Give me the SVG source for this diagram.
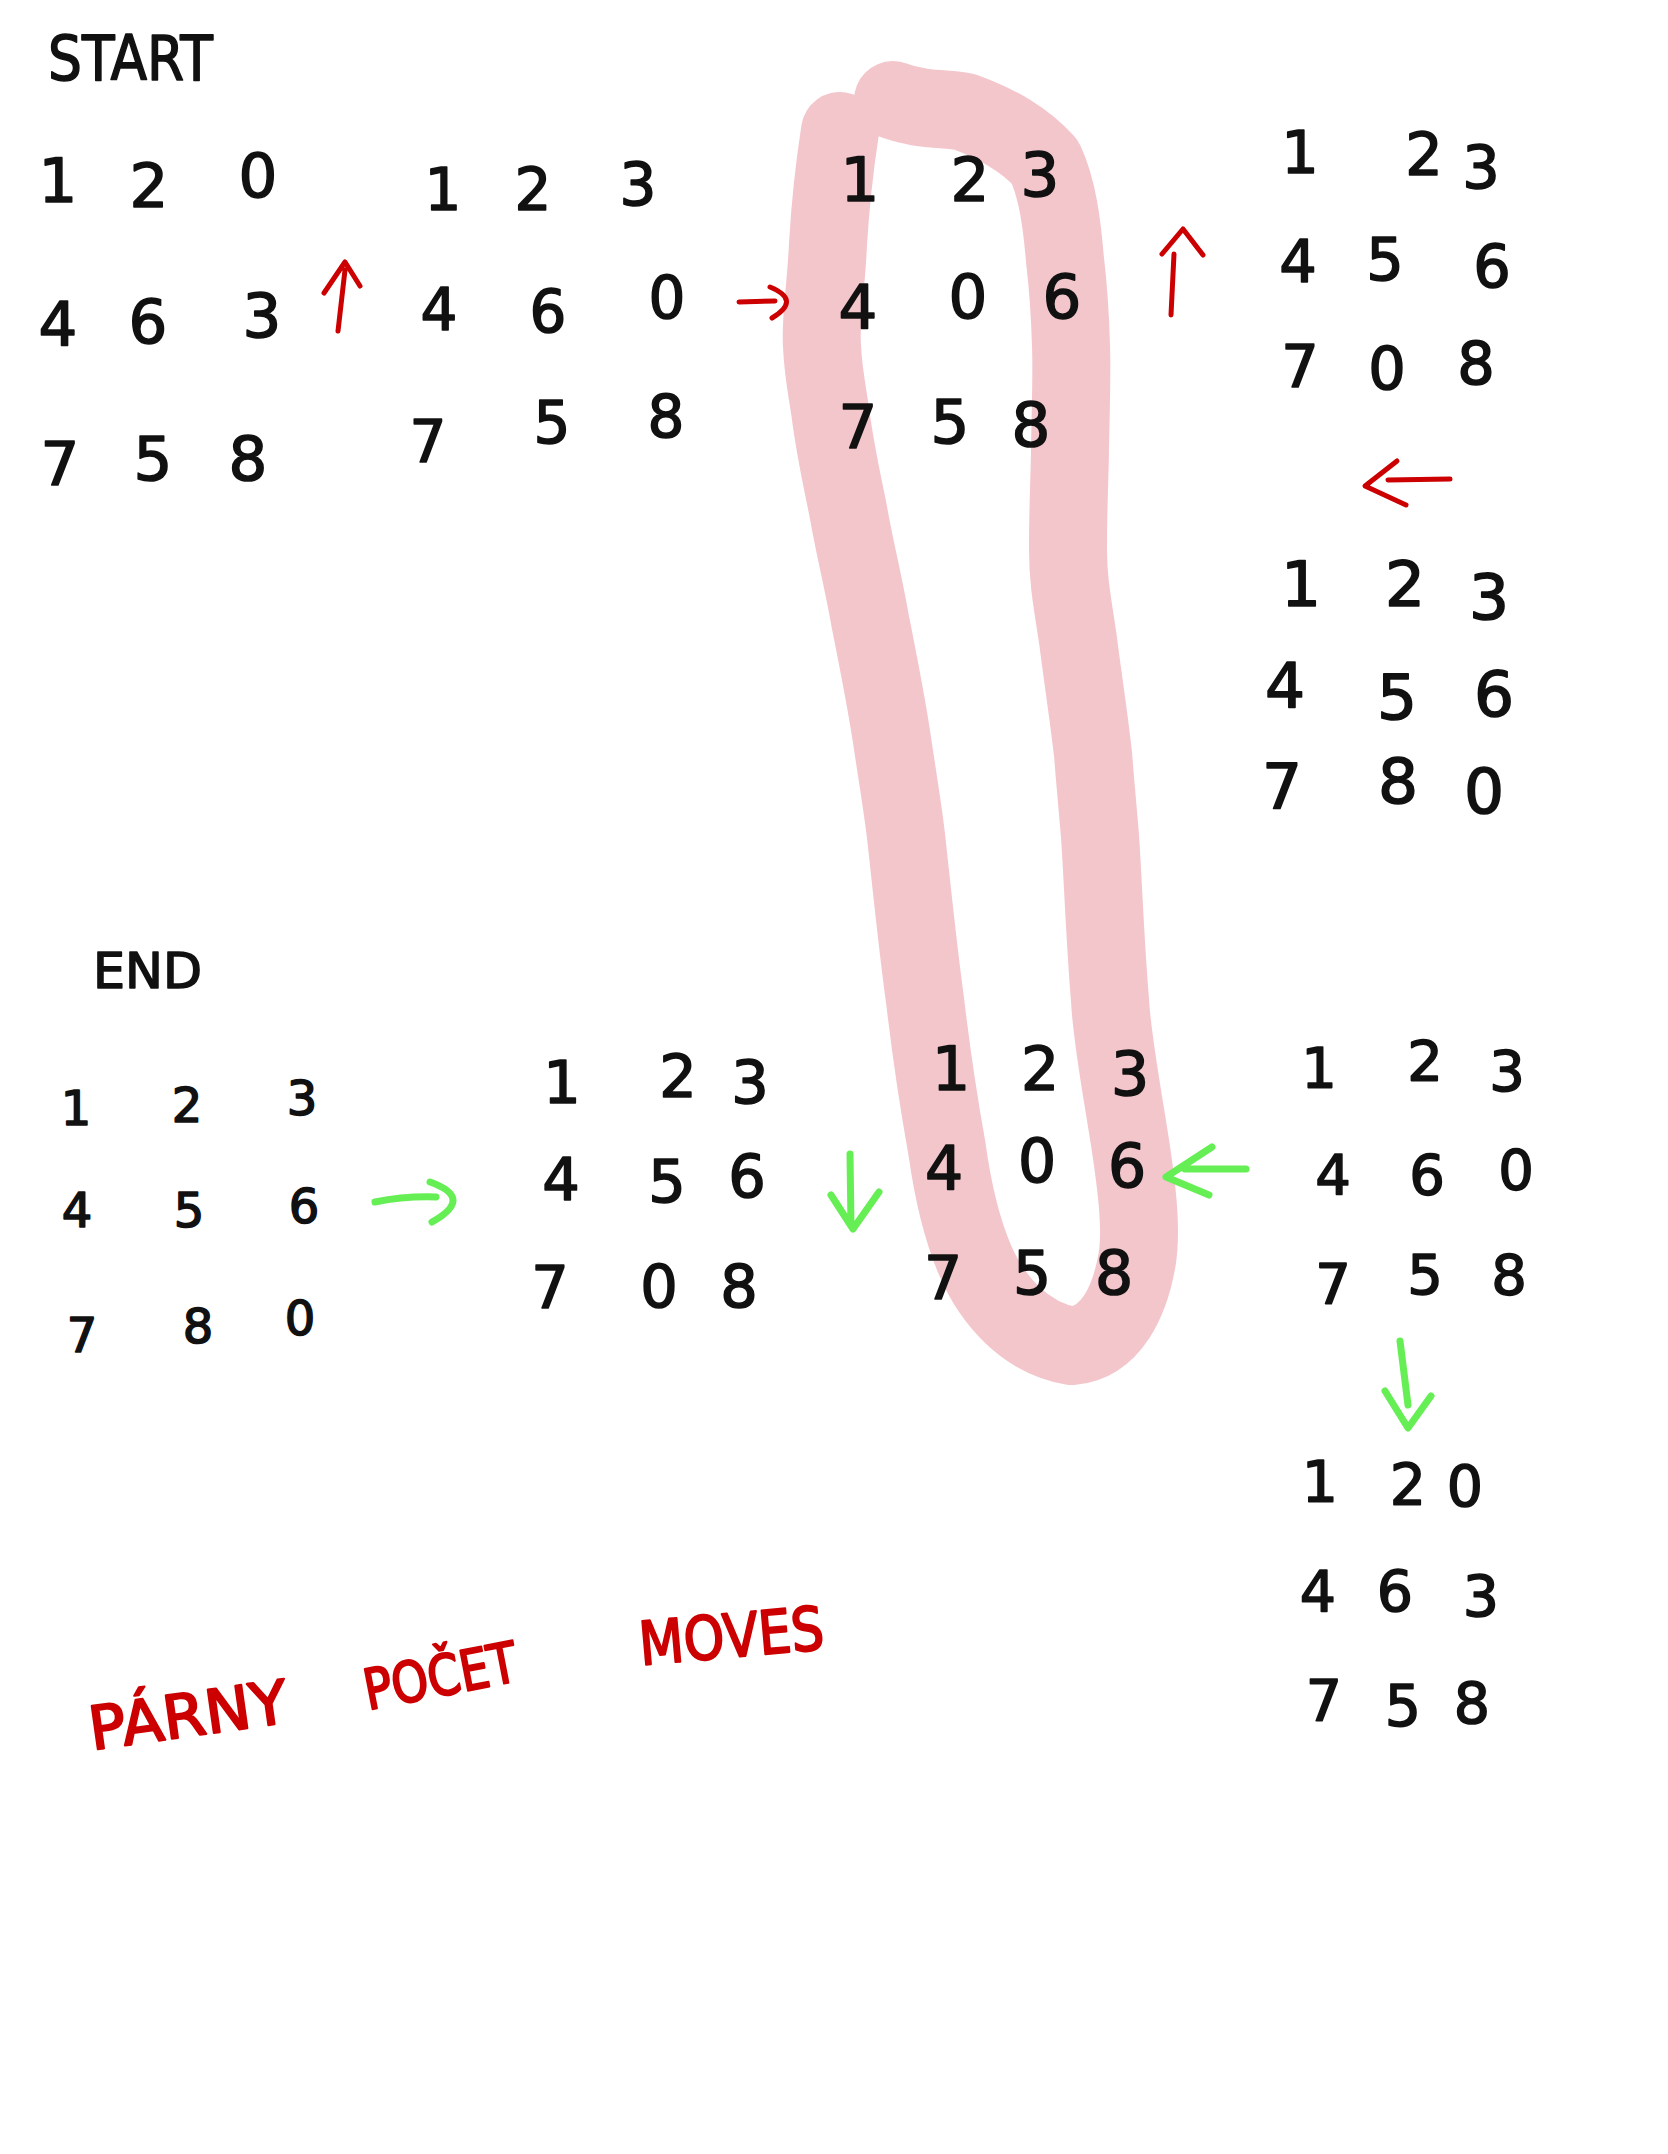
<svg xmlns="http://www.w3.org/2000/svg" width="1668" height="2154" viewBox="0 0 1668 2154">
<style>
text{font-family:"DejaVu Sans","Liberation Sans",sans-serif;fill:#111;stroke:#111;stroke-width:1.6;stroke-linejoin:round;}
.d text{text-anchor:middle;}
.red{fill:#cc0000;stroke:#cc0000;stroke-width:2.2;}
.hl{fill:none;stroke:#f3c6cc;stroke-width:78;stroke-linecap:round;stroke-linejoin:round;}
.ar{fill:none;stroke:#cc0000;stroke-width:5;stroke-linecap:round;stroke-linejoin:round;}
.ag{fill:none;stroke:#66ee55;stroke-width:7;stroke-linecap:round;stroke-linejoin:round;}
</style>
<rect width="1668" height="2154" fill="#ffffff"/>
<g id="highlight">
<path class="hl" d="M840 131 C834 170 830 210 828 244 C826 290 820 320 822 346 C823 370 826 385 830 410 C835 450 842 480 848 510 C855 550 863 580 870 620 C878 660 886 700 892 740 C898 780 903 810 906 836 C912 890 918 950 925 1000 C932 1060 940 1110 947 1149 C952 1185 960 1225 975 1260 C992 1300 1025 1338 1072 1346 C1112 1342 1130 1300 1137 1260 C1142 1230 1137 1190 1131 1149 C1122 1090 1112 1040 1110 1000 C1105 940 1103 880 1100 836 C1097 800 1095 780 1093 754 C1088 710 1083 680 1078 640 C1072 600 1068 580 1068 550 C1068 500 1070 470 1070 448 C1071 400 1072 370 1071 346 C1070 310 1068 285 1065 260 C1062 225 1058 190 1045 162 C1025 140 1000 125 965 112 C945 108 930 110 915 106 C905 104 898 102 893 100"/>
</g>
<g id="connectors">
<path class="ar" d="M338 331 L345 270 M324 293 L345 262 L360 286"/>
<path class="ar" d="M739 302 L775 301 M770 287 Q802 300 772 318"/>
<path class="ar" d="M1171 315 L1174 254 M1162 254 L1183 229 L1203 255"/>
<path class="ar" d="M1388 480 L1450 479 M1397 461 L1365 486 L1406 505"/>
<path class="ag" d="M375 1202 Q405 1196 436 1197 M430 1182 Q475 1198 432 1222"/>
<path class="ag" d="M850 1154 L851 1226 M831 1195 L853 1229 L879 1192"/>
<path class="ag" d="M1185 1169 L1246 1169 M1212 1147 L1166 1177 L1209 1195"/>
<path class="ag" d="M1400 1341 L1408 1405 M1385 1391 L1408 1428 L1431 1396"/>
</g>
<g id="label-start"><text x="48" y="80" font-size="62" textLength="165" lengthAdjust="spacingAndGlyphs">START</text></g>
<g id="label-end"><text x="93" y="988" font-size="50" textLength="109" lengthAdjust="spacingAndGlyphs">END</text></g>
<g id="grid1" class="d" font-size="61">
<text x="58" y="202">1</text><text x="149" y="207">2</text><text x="258" y="197">0</text>
<text x="58" y="345">4</text><text x="148" y="343">6</text><text x="262" y="337">3</text>
<text x="60" y="485">7</text><text x="153" y="480">5</text><text x="248" y="480">8</text>
</g>
<g id="grid2" class="d" font-size="58">
<text x="443" y="210">1</text><text x="533" y="210">2</text><text x="638" y="205">3</text>
<text x="439" y="330">4</text><text x="548" y="332">6</text><text x="667" y="318">0</text>
<text x="428" y="462">7</text><text x="552" y="443">5</text><text x="666" y="437">8</text>
</g>
<g id="grid3" class="d" font-size="61">
<text x="860" y="201">1</text><text x="970" y="201">2</text><text x="1040" y="196">3</text>
<text x="858" y="328">4</text><text x="968" y="318">0</text><text x="1062" y="318">6</text>
<text x="858" y="448">7</text><text x="950" y="443">5</text><text x="1031" y="446">8</text>
</g>
<g id="grid4" class="d" font-size="59">
<text x="1300" y="173">1</text><text x="1424" y="175">2</text><text x="1481" y="188">3</text>
<text x="1298" y="282">4</text><text x="1385" y="280">5</text><text x="1492" y="287">6</text>
<text x="1300" y="387">7</text><text x="1387" y="389">0</text><text x="1476" y="384">8</text>
</g>
<g id="grid5" class="d" font-size="63">
<text x="1301" y="606">1</text><text x="1405" y="606">2</text><text x="1489" y="619">3</text>
<text x="1285" y="708">4</text><text x="1397" y="719">5</text><text x="1494" y="716">6</text>
<text x="1282" y="808">7</text><text x="1398" y="803">8</text><text x="1484" y="813">0</text>
</g>
<g id="grid-end" class="d" font-size="48">
<text x="76" y="1125">1</text><text x="187" y="1122">2</text><text x="302" y="1115">3</text>
<text x="77" y="1227">4</text><text x="189" y="1227">5</text><text x="304" y="1223">6</text>
<text x="82" y="1352">7</text><text x="198" y="1343">8</text><text x="300" y="1335">0</text>
</g>
<g id="grid6" class="d" font-size="59">
<text x="562" y="1103">1</text><text x="678" y="1097">2</text><text x="750" y="1103">3</text>
<text x="561" y="1200">4</text><text x="667" y="1202">5</text><text x="747" y="1197">6</text>
<text x="550" y="1308">7</text><text x="659" y="1307">0</text><text x="739" y="1307">8</text>
</g>
<g id="grid7" class="d" font-size="60">
<text x="951" y="1090">1</text><text x="1040" y="1090">2</text><text x="1130" y="1095">3</text>
<text x="944" y="1189">4</text><text x="1037" y="1182">0</text><text x="1127" y="1187">6</text>
<text x="943" y="1299">7</text><text x="1032" y="1294">5</text><text x="1114" y="1294">8</text>
</g>
<g id="grid8" class="d" font-size="56">
<text x="1319" y="1087">1</text><text x="1425" y="1080">2</text><text x="1507" y="1090">3</text>
<text x="1333" y="1194">4</text><text x="1427" y="1194">6</text><text x="1516" y="1189">0</text>
<text x="1333" y="1303">7</text><text x="1425" y="1294">5</text><text x="1509" y="1294">8</text>
</g>
<g id="grid9" class="d" font-size="57">
<text x="1320" y="1502">1</text><text x="1408" y="1505">2</text><text x="1465" y="1507">0</text>
<text x="1318" y="1612">4</text><text x="1395" y="1612">6</text><text x="1481" y="1617">3</text>
<text x="1324" y="1721">7</text><text x="1403" y="1726">5</text><text x="1472" y="1724">8</text>
</g>
<g id="note">
<text class="red" transform="translate(92 1750) rotate(-8)" font-size="60" textLength="200" lengthAdjust="spacingAndGlyphs">PÁRNY</text>
<text class="red" transform="translate(368 1710) rotate(-11)" font-size="56" textLength="155" lengthAdjust="spacingAndGlyphs">POČET</text>
<text class="red" transform="translate(641 1665) rotate(-5)" font-size="60" textLength="185" lengthAdjust="spacingAndGlyphs">MOVES</text>
</g>
</svg>
